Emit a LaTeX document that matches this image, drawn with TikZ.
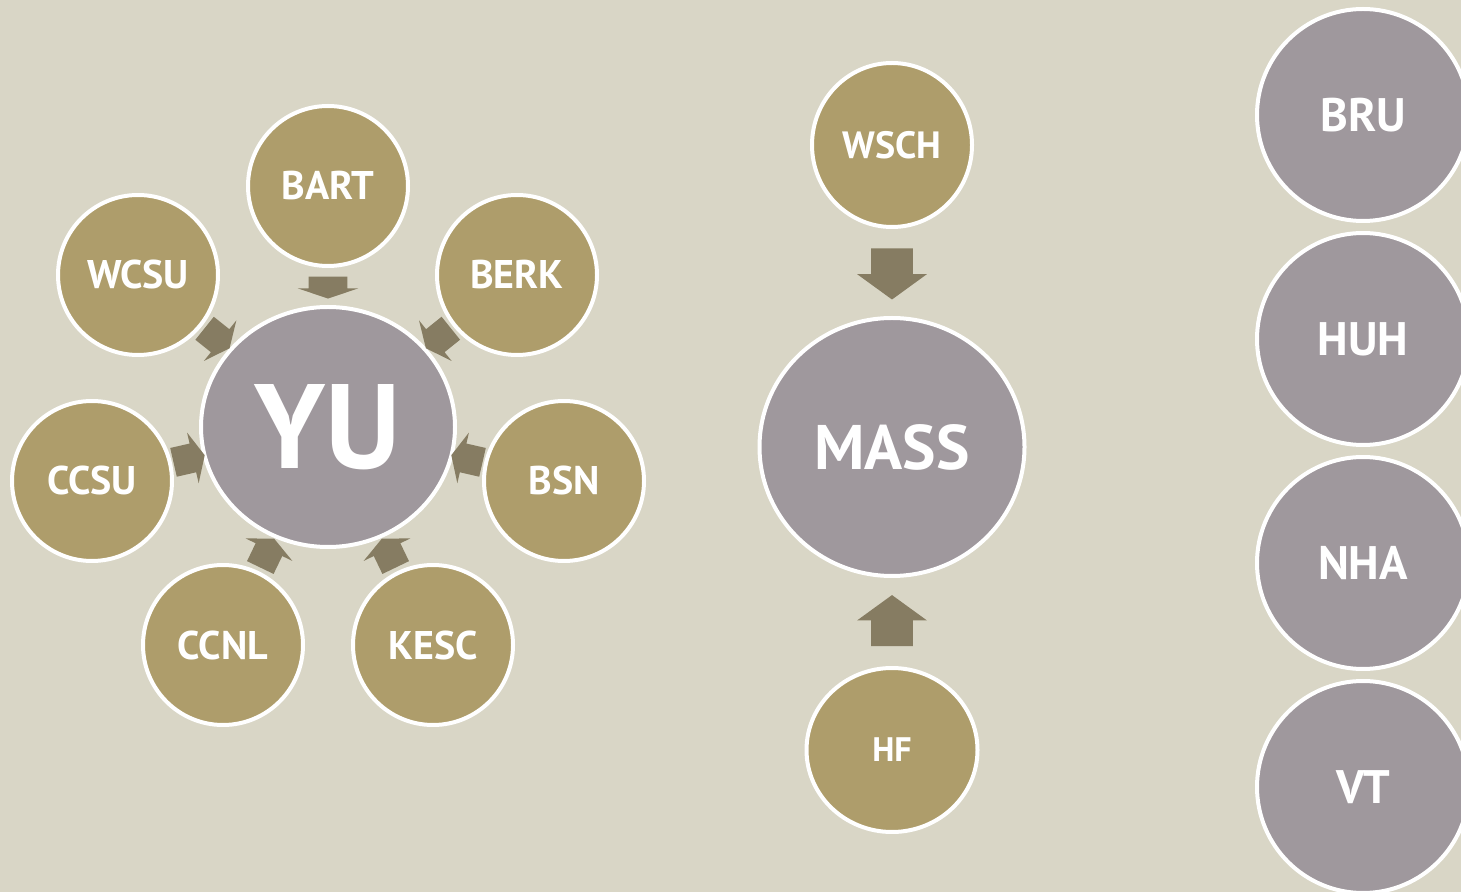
\documentclass[tikz,border=0pt]{standalone}
\usepackage{fontspec}
\setmainfont{PT Sans}
\usetikzlibrary{shapes.geometric,shapes.arrows}
\definecolor{bg}{HTML}{D9D6C6}
\definecolor{gold}{HTML}{AE9D6B}
\definecolor{grayc}{HTML}{9F989D}
\definecolor{arr}{HTML}{867C62}
\tikzset{
  base/.style={draw=white, line width=2pt, text=white, inner sep=0pt, font=\bfseries\fontsize{20}{20}\selectfont},
  sat/.style={base, circle, fill=gold, minimum size=80pt},
  hub/.style={base, ellipse, fill=grayc},
  solo/.style={base, circle, fill=grayc, minimum size=106pt, font=\bfseries\fontsize{23.5}{24}\selectfont},
  blk/.style={single arrow, fill=arr, draw=none, inner xsep=0pt, sloped, allow upside down},
  smallarr/.style={blk, pos=0.45, inner ysep=7pt, minimum height=16pt, minimum width=26pt, single arrow head extend=5.5pt, single arrow tip angle=130},
  toparr/.style={blk, pos=0.44, inner ysep=9.5pt, minimum height=11pt, minimum width=30pt, single arrow head extend=5.5pt, single arrow tip angle=143},
  bigarr/.style={blk, pos=0.43, inner ysep=10.25pt, minimum height=25.5pt, minimum width=34.5pt, single arrow head extend=7pt, single arrow tip angle=108}
}
\begin{document}
\begin{tikzpicture}[x=0.5pt,y=-0.5pt]
\useasboundingbox (0,0) rectangle (1461,892);
\clip (0,0) rectangle (1461,892);
\fill[bg] (0,0) rectangle (1461,892);
% YU cluster
\node[hub, minimum width=127pt, minimum height=120pt, font=\bfseries\fontsize{60}{60}\selectfont] (YU) at (328,427) {YU};
\node[sat] (BART) at (328,186) {BART};
\node[sat] (WCSU) at (138,275) {WCSU};
\node[sat] (BERK) at (517,275) {BERK};
\node[sat] (CCSU) at (92,481) {CCSU};
\node[sat] (BSN) at (564,481) {BSN};
\node[sat] (CCNL) at (223,645) {CCNL};
\node[sat] (KESC) at (433,645) {KESC};
\path (BART) -- node[toparr] {} (YU);
\path (WCSU) -- node[smallarr] {} (YU);
\path (BERK) -- node[smallarr] {} (YU);
\path (CCSU) -- node[smallarr] {} (YU);
\path (BSN) -- node[smallarr] {} (YU);
\path (CCNL) -- node[smallarr] {} (YU);
\path (KESC) -- node[smallarr] {} (YU);
% MASS cluster
\node[hub, minimum width=132.5pt, minimum height=129pt, font=\bfseries\fontsize{31.5}{31.5}\selectfont] (MASS) at (892,447) {MASS};
\node[base, ellipse, fill=gold, minimum width=80pt, minimum height=82pt, font=\bfseries\fontsize{19}{19}\selectfont] (WSCH) at (892,145) {WSCH};
\node[base, ellipse, fill=gold, minimum width=85.5pt, minimum height=82pt, font=\bfseries\fontsize{17}{17}\selectfont] (HF) at (892,750) {HF};
\path (WSCH) -- node[bigarr] {} (MASS);
\path (HF) -- node[bigarr] {} (MASS);
% right column
\node[solo] (BRU) at (1363,115) {BRU};
\node[solo] (HUH) at (1363,339) {HUH};
\node[solo] (NHA) at (1363,563) {NHA};
\node[solo] (VT) at (1363,787) {VT};
\end{tikzpicture}
\end{document}
